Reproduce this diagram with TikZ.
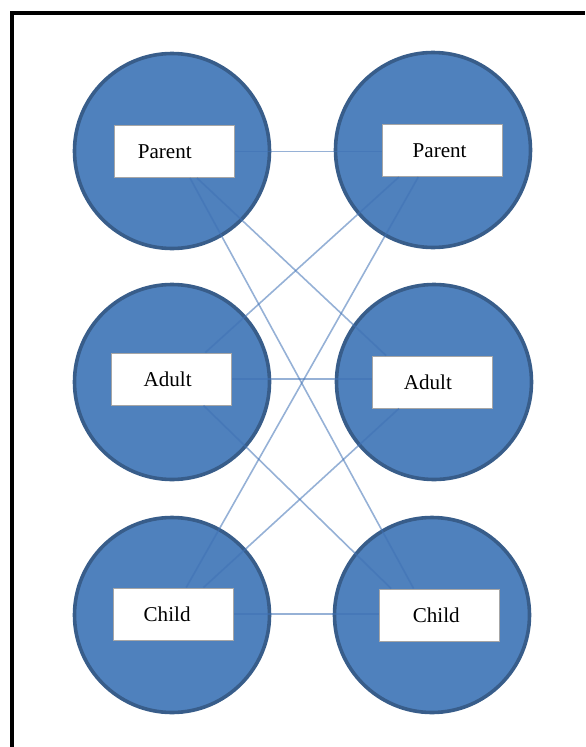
\documentclass[tikz,border=0pt]{standalone}
\usepackage{fontspec}
\setmainfont{Liberation Serif}
\usetikzlibrary{calc,positioning}
\definecolor{discfill}{RGB}{79,129,189}
\definecolor{discedge}{RGB}{56,93,138}
\definecolor{linkblue}{RGB}{63,113,181}
\tikzset{
	disc/.style={draw=discedge, fill=discfill, line width=0.9mm},
	namebox/.style={draw=black!35, fill=white, line width=0.25mm, minimum width=30mm, minimum height=13mm, inner sep=0pt},
	nametext/.style={inner sep=0pt, font=\fontsize{15pt}{18pt}\selectfont},
	link/.style={draw=linkblue, line width=0.4mm, opacity=0.55}
}

\begin{document}
\begin{tikzpicture}[x=0.25mm, y=-0.25mm]
			\useasboundingbox (0,0) rectangle (585,747);
			%%%%% START %%%%%
			
			\draw[line width=1mm] (11.5,747) -- (11.5,12.5) -- (585,12.5);
			
			\draw[disc] (172,151) circle (97.5);
			\draw[disc] (433,150) circle (97.5);
			\draw[disc] (172,382) circle (97.5);
			\draw[disc] (434,382) circle (97.5);
			\draw[disc] (172,615) circle (97.5);
			\draw[disc] (432,615) circle (97.5);
			
			\node[namebox] (pl) at (174.5,151.5) {};
			\node[namebox] (pr) at (442.5,150.5) {};
			\node[namebox] (al) at (171.5,379) {};
			\node[namebox] (ar) at (432.5,382) {};
			\node[namebox] (cl) at (173.5,614) {};
			\node[namebox] (cr) at (439.5,615) {};
			
			\node[nametext, right=5.9mm of pl.west] (pl-t) {Parent};
			\node[nametext, right=7.6mm of pr.west] (pr-t) {Parent};
			\node[nametext, right=8.1mm of al.west] (al-t) {Adult};
			\node[nametext, right=7.9mm of ar.west] (ar-t) {Adult};
			\node[nametext, right=7.6mm of cl.west] (cl-t) {Child};
			\node[nametext, right=8.4mm of cr.west] (cr-t) {Child};
			
			\draw[link] (pl.east) -- (pl.east -| pr.west);
			\draw[link] (al.east) -- (al.east -| ar.west);
			\draw[link] (cl.east) -- (cl.east -| cr.west);
			
			\draw[link] ($(pl.south west)!0.686!(pl.south east)$) -- ($(ar.north west)!0.116!(ar.north east)$);
			\draw[link] ($(pl.south west)!0.628!(pl.south east)$) -- ($(cr.north west)!0.286!(cr.north east)$);
			\draw[link] ($(pr.south west)!0.14!(pr.south east)$) -- ($(al.north west)!0.78!(al.north east)$);
			\draw[link] ($(pr.south west)!0.30!(pr.south east)$) -- ($(cl.north west)!0.605!(cl.north east)$);
			\draw[link] ($(al.south west)!0.765!(al.south east)$) -- ($(cr.north west)!0.10!(cr.north east)$);
			\draw[link] ($(ar.south west)!0.223!(ar.south east)$) -- ($(cl.north west)!0.748!(cl.north east)$);
			
			%%%%% END %%%%%
\end{tikzpicture}
\end{document}
